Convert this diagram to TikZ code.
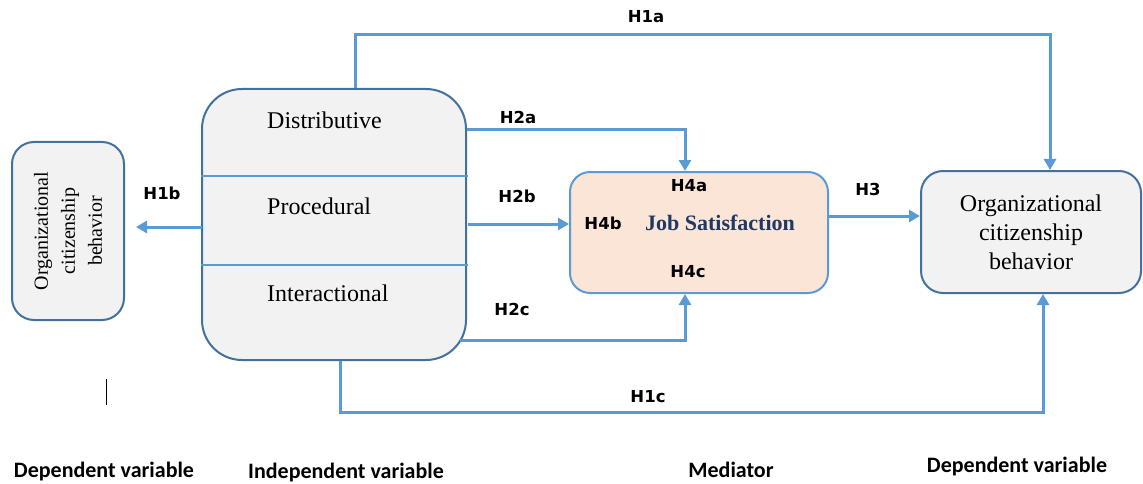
\documentclass[tikz,border=0pt]{standalone}
\usepackage{fontspec}
\setmainfont{Liberation Serif}
\newfontfamily\hfont{DejaVu Sans}
\newfontfamily\cfont{Carlito}
\usetikzlibrary{arrows.meta}
\definecolor{arr}{HTML}{5B9BD5}
\definecolor{bord}{HTML}{41719C}
\definecolor{boxfill}{HTML}{F2F2F2}
\definecolor{jsfill}{HTML}{FBE5D6}
\definecolor{navy}{HTML}{1F3864}
\tikzset{
  gbox/.style={draw=bord, fill=boxfill, line width=2pt, inner sep=0pt},
  arrline/.style={draw=arr, line width=3pt, -{Triangle[length=11pt,width=12pt]}},
  hlab/.style={font=\hfont\bfseries\fontsize{16.5}{18}\selectfont, inner sep=0pt},
  blab/.style={font=\cfont\bfseries\fontsize{22}{24}\selectfont, inner sep=0pt},
  dimtext/.style={font=\fontsize{24}{29}\selectfont, anchor=base west, inner sep=0pt},
}
\begin{document}
\begin{tikzpicture}[x=1pt,y=-1pt]
\useasboundingbox (0,0) rectangle (1143,484);

% boxes
\node[gbox, minimum width=264, minimum height=271, rounded corners=40] (indep) at (334,224.5) {};
\node[gbox, rotate=90, minimum width=178, minimum height=112, rounded corners=22, align=center,
      font=\fontsize{20}{27}\selectfont] (ocb1) at (68,231) {Organizational\\citizenship\\behavior};
\node[draw=arr, fill=jsfill, line width=2pt, minimum width=258, minimum height=121, rounded corners=20] (js) at (699,232.5) {};
\node[gbox, minimum width=220, minimum height=122, rounded corners=22, align=center,
      font=\fontsize{24}{29}\selectfont] (ocb2) at (1031,232) {Organizational\\citizenship\\behavior};

% dividers
\coordinate (d1) at (468,176);
\coordinate (d2) at (468,265);
\draw[arr, line width=2pt] (indep.west |- d1) -- (d1);
\draw[arr, line width=2pt] (indep.west |- d2) -- (d2);

% texts in independent box
\node[dimtext] (t1) at (267,129) {Distributive};
\node[dimtext] (t2) at (267,214) {Procedural};
\node[dimtext] (t3) at (267,301) {Interactional};

% job satisfaction texts
\node[font=\bfseries\fontsize{22}{24}\selectfont, text=navy, inner sep=0pt] (jst) at (720,223) {Job Satisfaction};
\node[hlab] (h4a) at (689,186) {H4a};
\node[hlab] (h4b) at (603,223) {H4b};
\node[hlab] (h4c) at (688,272) {H4c};

% connectors
\coordinate (a1) at (355,35);
\coordinate (a2) at (1050,35);
\draw[arrline] (indep.north -| a1) -- (a1) -- (a2) -- (ocb2.north -| a2);

\coordinate (b1) at (685,130);
\draw[arrline] (indep.east |- b1) -- (b1) -- (js.north -| b1);

\coordinate (c1) at (468,224);
\draw[arrline] (c1) -- (js.west |- c1);

\coordinate (e1) at (202,227);
\draw[arrline] (e1) -- ([xshift=11pt]ocb1.south |- e1);

\coordinate (f1) at (685,340);
\coordinate (f0) at (460,340);
\draw[arrline] (f0) -- (f1) -- (js.south -| f1);

\coordinate (g1) at (340,412);
\coordinate (g2) at (1043,412);
\draw[arrline] (indep.south -| g1) -- (g1) -- (g2) -- (ocb2.south -| g2);

\coordinate (k1) at (917,216);
\draw[arrline] (js.east |- k1) -- (ocb2.west |- k1);

% labels
\node[hlab] (l1a) at (646,17) {H1a};
\node[hlab] (l2a) at (518,117) {H2a};
\node[hlab] (l1b) at (162,193) {H1b};
\node[hlab] (l2b) at (517,196) {H2b};
\node[hlab] (l3) at (868,189) {H3};
\node[hlab] (l2c) at (512,309) {H2c};
\node[hlab] (l1c) at (648,397) {H1c};

% stray mark
\draw[black, line width=1pt] (106,379) -- (106,405);

% bottom captions
\node[blab] (c1t) at (104,472) {Dependent variable};
\node[blab] (c2t) at (346,473) {Independent variable};
\node[blab] (c3t) at (731,470) {Mediator};
\node[blab] (c4t) at (1017,467) {Dependent variable};
\end{tikzpicture}
\end{document}
